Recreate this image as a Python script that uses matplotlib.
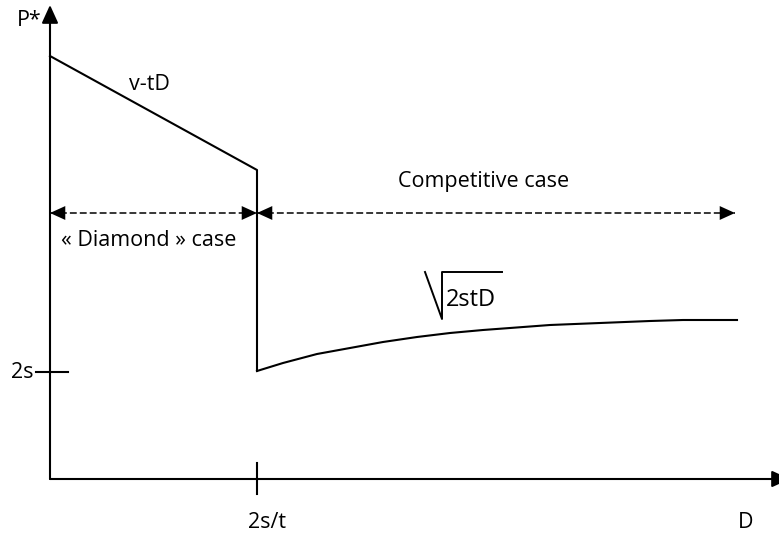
import matplotlib
matplotlib.use("Agg")
import matplotlib.pyplot as plt
from matplotlib.patches import FancyArrowPatch

plt.rcParams['font.family'] = ['Open Sans', 'DejaVu Sans']

# values (arbitrary units)
d_break = 2.07                      # 2s/t
p_2s = 1.07                         # 2s
diamond_d = [0.0, 2.07]
diamond_p = [4.23, 3.09]
comp_d = [2.07, 2.33, 2.67, 3.00, 3.33, 3.67, 4.00, 4.33, 4.60, 5.00, 5.50, 6.00, 6.33, 6.87]
comp_p = [1.08, 1.16, 1.25, 1.31, 1.37, 1.42, 1.46, 1.49, 1.51, 1.54, 1.56, 1.58, 1.59, 1.59]
range_y = 2.66
range_end = 6.85
y_top = 4.74
x_right = 7.40

fig = plt.figure(figsize=(7.79, 5.40), dpi=100)
ax = fig.add_axes([0, 0, 1, 1])
ax.set_xlim(-0.50, 7.29)
ax.set_ylim(-0.61, 4.79)
ax.axis('off')

lw = 1.5
ax.plot(diamond_d + [d_break], diamond_p + [comp_p[0]], color='black', lw=lw)
ax.plot(comp_d, comp_p, color='black', lw=lw, solid_joinstyle='round')

# axes with arrows
for end in [(0, y_top), (x_right, 0)]:
    ax.add_patch(FancyArrowPatch((0, 0), end, arrowstyle='-|>,head_length=11,head_width=5',
                                 mutation_scale=1, color='black', lw=lw, shrinkA=0, shrinkB=0))

# ticks
ax.plot([-0.14, 0.18], [p_2s, p_2s], color='black', lw=lw)
ax.plot([d_break, d_break], [0.16, -0.15], color='black', lw=lw)

# dashed range arrows
for a, b in [(0, d_break), (d_break, range_end)]:
    ax.plot([a, b], [range_y, range_y], color='black', lw=1.1, ls=(0, (4.5, 2)))
    ax.add_patch(FancyArrowPatch((a, range_y), (b, range_y),
                                 arrowstyle='<|-|>,head_length=11,head_width=5',
                                 mutation_scale=1, color='black', lw=0, shrinkA=0, shrinkB=0))

fs = 15.5
ax.text(-0.21, 4.58, 'P*', fontsize=fs, ha='center', va='center')
ax.text(0.99, 3.95, 'v-tD', fontsize=fs, ha='center', va='center')
ax.text(0.99, 2.38, '« Diamond » case', fontsize=fs, ha='center', va='center')
ax.text(4.34, 2.97, 'Competitive case', fontsize=fs, ha='center', va='center')
ax.text(-0.16, p_2s, '2s', fontsize=fs, ha='right', va='center')
ax.text(2.17, -0.43, '2s/t', fontsize=fs, ha='center', va='center')
ax.text(6.96, -0.44, 'D', fontsize=fs, ha='center', va='center')

# square-root label: radical sign drawn as a line, radicand as text
ax.plot([3.75, 3.92, 3.92, 4.52], [2.07, 1.60, 2.07, 2.07], color='black', lw=1.4)
ax.text(4.21, 1.79, '2stD', fontsize=17, ha='center', va='center')

fig.savefig('out.png', dpi=100)
